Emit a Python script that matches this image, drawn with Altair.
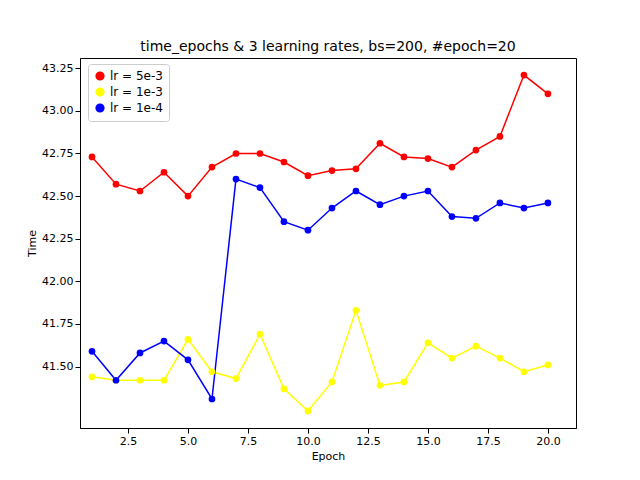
import altair as alt
import pandas as pd

epochs = list(range(1, 21))
lr_5e3 = [42.73, 42.57, 42.53, 42.64, 42.50, 42.67, 42.75, 42.75, 42.70, 42.62,
          42.65, 42.66, 42.81, 42.73, 42.72, 42.67, 42.77, 42.85, 43.21, 43.10]
lr_1e3 = [41.44, 41.42, 41.42, 41.42, 41.66, 41.47, 41.43, 41.69, 41.37, 41.24,
          41.41, 41.83, 41.39, 41.41, 41.64, 41.55, 41.62, 41.55, 41.47, 41.51]
lr_1e4 = [41.59, 41.42, 41.58, 41.65, 41.54, 41.31, 42.60, 42.55, 42.35, 42.30,
          42.43, 42.53, 42.45, 42.50, 42.53, 42.38, 42.37, 42.46, 42.43, 42.46]
series = ["lr = 5e-3", "lr = 1e-3", "lr = 1e-4"]
colors = ["red", "yellow", "blue"]

rows = []
for name, vals in zip(series, [lr_5e3, lr_1e3, lr_1e4]):
    for e, v in zip(epochs, vals):
        rows.append({"Epoch": e, "Time": v, "series": name})
df = pd.DataFrame(rows)

color = alt.Color("series:N", scale=alt.Scale(domain=series, range=colors),
                  sort=series,
                  legend=alt.Legend(title=None, orient="none", legendX=8, legendY=6,
                                    strokeColor="#cccccc", fillColor="white",
                                    padding=6, cornerRadius=3, labelFontSize=12,
                                    symbolType="circle", symbolSize=60,
                                    labelFont="DejaVu Sans"))
x = alt.X("Epoch:Q", scale=alt.Scale(domain=[0.5, 21.17], nice=False),
          axis=alt.Axis(values=[2.5, 5, 7.5, 10, 12.5, 15, 17.5, 20], format=".1f",
                        grid=False, title="Epoch"))
y = alt.Y("Time:Q", scale=alt.Scale(domain=[41.14, 43.31], nice=False, zero=False),
          axis=alt.Axis(values=[41.5, 41.75, 42.0, 42.25, 42.5, 42.75, 43.0, 43.25],
                        format=".2f", grid=False, title="Time"))

base = alt.Chart(df).encode(x=x, y=y, color=color)
lines = base.mark_line(strokeWidth=1.5)
points = base.mark_circle(size=45, opacity=1)

chart = (lines + points).properties(
    width=496, height=370,
    title=alt.Title("time_epochs & 3 learning rates, bs=200, #epoch=20",
                    fontSize=14, fontWeight="normal", font="DejaVu Sans"),
    autosize=alt.AutoSizeParams(type="none"),
    padding={"left": 72, "top": 50, "right": 50, "bottom": 45},
).configure_axis(
    labelFont="DejaVu Sans", titleFont="DejaVu Sans", labelFontSize=11,
    titleFontSize=11, titleFontWeight="normal", domainColor="black",
    tickColor="black", labelColor="black",
).configure_view(stroke="black")

chart.save("out.html", embed_options={"renderer": "svg", "actions": False})
